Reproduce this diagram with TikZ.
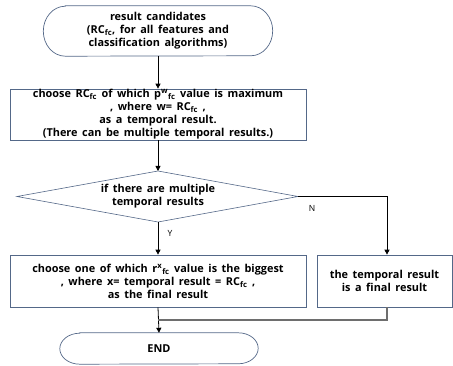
\documentclass[tikz,border=0pt]{standalone}
\usepackage{fontspec}
\setmainfont[WordSpace=1.6]{Open Sans}
\usetikzlibrary{arrows.meta}
\definecolor{edge}{RGB}{84,104,136}
\definecolor{merge}{RGB}{110,110,110}
\begin{document}
\begin{tikzpicture}[x=1pt,y=-1pt,
  txt/.style={font=\fontsize{10.9}{13}\selectfont\bfseries, align=center, text=black},
  plainnode/.style={txt, rectangle, inner sep=0pt},
  procbox/.style={txt, rectangle, draw=edge, line width=0.7pt, inner sep=0pt},
  outline/.style={draw=edge, line width=0.7pt},
  conn/.style={line width=0.8pt, black},
  arr/.style={conn, -{Triangle[length=5pt,width=5pt]}},
  lbl/.style={font=\fontsize{8.5}{10}\selectfont, text=black}]
\useasboundingbox (0,0) rectangle (453,366);
% start terminator
\node[plainnode, minimum width=229pt, minimum height=50pt] (start) at (158,31)
  {result candidates\\(RC\textsubscript{fc}, for all features and\\classification algorithms)};
\draw[outline] ([xshift=22pt]start.north west) -- ([xshift=-22pt]start.north east)
  arc[start angle=90, end angle=-90, x radius=22pt, y radius=25pt]
  -- ([xshift=22pt]start.south west)
  arc[start angle=270, end angle=90, x radius=22pt, y radius=25pt] -- cycle;
\node[procbox, minimum width=296pt, minimum height=51pt] (choose) at (158,114.5)
  {choose RC\textsubscript{fc} of which p\textsuperscript{w}\textsubscript{fc} value is maximum\\, where w= RC\textsubscript{fc} ,\\as a temporal result.\\(There can be multiple temporal results.)};
% decision
\node[plainnode] (multi) at (158,196.5) {if there are multiple\\temporal results};
\coordinate (dt) at (158,171);
\coordinate (dr) at (298,196.5);
\coordinate (db) at (158,222);
\coordinate (dl) at (17,196.5);
\draw[outline, line width=0.6pt] (dt) -- (dr) -- (db) -- (dl) -- cycle;
\node[procbox, minimum width=296pt, minimum height=52pt] (final) at (158,281)
  {choose one of which r\textsuperscript{x}\textsubscript{fc} value is the biggest\\, where x= temporal result = RC\textsubscript{fc} ,\\as the final result};
\node[procbox, minimum width=135pt, minimum height=52pt] (single) at (384.5,281)
  {the temporal result\\is a final result};
% end terminator
\node[plainnode, minimum width=198pt, minimum height=31pt] (end) at (159,348.5) {END};
\draw[outline] ([xshift=20pt]end.north west) -- ([xshift=-20pt]end.north east)
  arc[start angle=90, end angle=-90, x radius=20pt, y radius=15.5pt]
  -- ([xshift=20pt]end.south west)
  arc[start angle=270, end angle=90, x radius=20pt, y radius=15.5pt] -- cycle;
\coordinate (ncorner) at (387,196.5);
\coordinate (mj) at (387,320);
\coordinate (ml) at (158,320);
\draw[arr] (start.south) -- (choose.north);
\draw[arr] (choose.south) -- (dt);
\draw[arr] (db) -- node[lbl, pos=0.35, right=6pt] {Y} (final.north);
\draw[conn] (dr) -- (ncorner);
\draw[arr] (ncorner) -- (single.north -| ncorner);
\node[lbl] (nlab) at (312,208) {N};
\draw[arr] (final.south) -- (end.north);
\draw[merge, line width=1.2pt] (single.south -| mj) -- (mj) -- (ml);
\end{tikzpicture}
\end{document}
